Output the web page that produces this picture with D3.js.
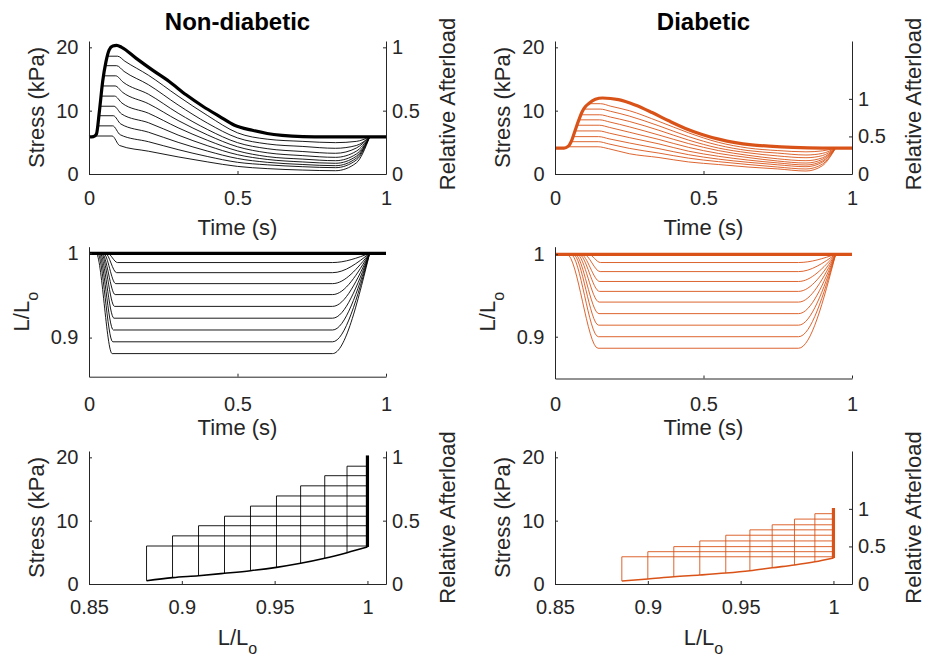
<!DOCTYPE html>
<html>
<head>
<meta charset="utf-8">
<script src="https://cdn.jsdelivr.net/npm/d3@7"></script>
<style>
  body { margin: 0; background: #fff; }
</style>
</head>
<body>
<svg id="fig" width="926" height="659"></svg>
<script>
// ---------- values ----------
// isometric (thick) stress traces, kPa
const tIsoND = [0, 0.015, 0.025, 0.035, 0.046, 0.057, 0.068, 0.08, 0.093, 0.11, 0.158, 0.214, 0.27, 0.327, 0.383, 0.439, 0.49, 0.55, 0.6, 0.65, 0.72, 0.8, 1.0];
const sIsoND = [5.85, 5.9, 6.3, 9.9, 14.6, 17.7, 19.6, 20.2, 20.3, 20.0, 18.3, 16.4, 14.6, 12.5, 10.7, 9.1, 7.7, 6.9, 6.4, 6.1, 5.9, 5.85, 5.85];
const tIsoD = [0, 0.03, 0.045, 0.057, 0.068, 0.08, 0.091, 0.102, 0.113, 0.136, 0.16, 0.214, 0.27, 0.327, 0.383, 0.439, 0.495, 0.551, 0.607, 0.663, 0.72, 0.8, 0.9, 1.0];
const sIsoD = [4.1, 4.1, 4.4, 5.4, 6.9, 8.5, 9.8, 10.6, 11.1, 11.8, 12.0, 11.75, 10.9, 9.7, 8.4, 7.2, 6.25, 5.5, 4.95, 4.6, 4.4, 4.2, 4.1, 4.1];

// afterloaded contractions, non-diabetic
const afterND = [6.0, 7.6, 9.2, 10.7, 12.3, 13.9, 15.5, 17.1, 18.6];
const onND = [0.024, 0.029, 0.033, 0.037, 0.041, 0.044, 0.049, 0.055, 0.062];   // shortening starts
const kinkND = [0.078, 0.080, 0.082, 0.084, 0.086, 0.088, 0.090, 0.093, 0.096]; // shortening ends
const dropND = [0.103, 0.105, 0.107, 0.109, 0.111, 0.113, 0.115, 0.118, 0.121];
const decayTND = [0.2, 0.3, 0.4, 0.5, 0.6, 0.72];
const decayND = [
  [4.5, 3.6, 2.7, 1.9, 1.2, 0.85, 0.62],
  [6.2, 5.1, 3.85, 2.75, 1.85, 1.45, 1.15],
  [7.9, 6.6, 5.0, 3.6, 2.45, 1.85, 1.5],
  [9.5, 8.1, 6.15, 4.45, 3.05, 2.3, 1.9],
  [11.2, 9.6, 7.3, 5.3, 3.65, 2.75, 2.35],
  [12.9, 11.1, 8.45, 6.15, 4.3, 3.35, 2.9],
  [14.5, 12.6, 9.6, 7.0, 4.95, 4.0, 3.55],
  [16.2, 14.1, 10.9, 8.0, 5.7, 4.75, 4.35],
  [17.8, 15.6, 12.3, 9.2, 6.5, 5.5, 5.15]
];
const passND = [0.52, 1.0, 1.31, 1.69, 2.1, 2.63, 3.27, 4.06, 4.95];   // stress at shortest length
const reloadND = [1.75, 2.2, 2.5, 2.8, 3.15, 3.6, 4.1, 4.5, 5.15];   // stress at t = 0.9
const lMinND = [0.881, 0.895, 0.909, 0.923, 0.937, 0.951, 0.964, 0.977, 0.989];

// afterloaded contractions, diabetic
const afterD = [4.3, 5.1, 5.9, 6.8, 7.7, 8.55, 9.35, 10.25, 11.1];
const onD = [0.04, 0.053, 0.061, 0.067, 0.074, 0.081, 0.087, 0.097, 0.113];
const kinkD = [0.145, 0.146, 0.147, 0.148, 0.149, 0.150, 0.151, 0.152, 0.153];
const dropD = [0.18, 0.181, 0.182, 0.183, 0.184, 0.185, 0.186, 0.187, 0.188];
const decayTD = [0.25, 0.35, 0.45, 0.55, 0.65, 0.75];
const decayD = [
  [4.0, 3.2, 2.6, 1.9, 1.5, 1.1, 0.8],
  [4.75, 4.05, 3.3, 2.5, 1.95, 1.5, 1.1],
  [5.55, 4.9, 4.0, 3.05, 2.35, 1.85, 1.45],
  [6.45, 5.75, 4.75, 3.6, 2.8, 2.2, 1.75],
  [7.35, 6.6, 5.45, 4.2, 3.25, 2.6, 2.05],
  [8.2, 7.45, 6.15, 4.8, 3.7, 2.95, 2.4],
  [9.0, 8.3, 6.9, 5.35, 4.1, 3.35, 2.85],
  [9.9, 9.15, 7.6, 5.9, 4.55, 3.7, 3.3],
  [10.7, 10.0, 8.3, 6.5, 5.0, 4.1, 3.7]
];
const passD = [0.47, 0.79, 1.15, 1.42, 1.73, 2.1, 2.57, 3.0, 3.5];
const reloadD = [1.3, 1.55, 1.85, 2.05, 2.3, 2.55, 2.9, 3.25, 3.65];
const lMinD = [0.886, 0.900, 0.914, 0.928, 0.942, 0.955, 0.967, 0.979, 0.990];

// timing of relengthening (s)
const passTND = 0.83, passTD = 0.845, midT = 0.9, backT = 0.945, relaxT = 0.82;

// ticks
const timeTicks = [0, 0.5, 1];
const stressTicks = [0, 10, 20];
const relTicks = [0, 0.5, 1];
const lenTicks = [0.9, 1];
const loopTicks = [0.85, 0.9, 0.95, 1];

// ---------- drawing ----------
const FONT = '"Liberation Sans", Arial, Helvetica, sans-serif';
const AX = '#262626';
const TICK = 20, LAB = 22;
const fmt = d3.format('~g');
const svg = d3.select('#fig');

const groups = [
  {name: 'Non-diabetic', col: '#000000', x0: 89, tIso: tIsoND, sIso: sIsoND, after: afterND, on: onND, kink: kinkND,
   drop: dropND, decayT: decayTND, decay: decayND, pass: passND, passT: passTND, reload: reloadND, lMin: lMinND,
   relTop: 1.05, lenDom: [0.8536, 1.0078], lenBottom: 376.7},
  {name: 'Diabetic', col: '#D95319', x0: 555, tIso: tIsoD, sIso: sIsoD, after: afterD, on: onD, kink: kinkD,
   drop: dropD, decayT: decayTD, decay: decayD, pass: passD, passT: passTD, reload: reloadD, lMin: lMinD,
   relTop: 1.77, lenDom: [0.8493, 1.0092], lenBottom: 378.5}
];

function styleAxis(a) {
  a.attr('font-family', FONT).attr('font-size', TICK).attr('color', AX);
}

function xAxis(x, yPix, ticks, base) {
  svg.append('g').attr('transform', `translate(0,${yPix})`)
    .call(d3.axisBottom(x).tickValues(ticks).tickFormat(fmt).tickSize(-3).tickSizeOuter(0))
    .call(a => { styleAxis(a); a.selectAll('text').attr('y', base).attr('dy', null); });
}
function yAxis(y, xPix, ticks) {
  svg.append('g').attr('transform', `translate(${xPix},0)`)
    .call(d3.axisLeft(y).tickValues(ticks).tickFormat(fmt).tickSize(-3).tickSizeOuter(0).tickPadding(10.5))
    .call(styleAxis);
}
function yAxisRight(y, xPix, ticks) {
  svg.append('g').attr('transform', `translate(${xPix},0)`)
    .call(d3.axisRight(y).tickValues(ticks).tickFormat(fmt).tickSize(-3).tickSizeOuter(0).tickPadding(6))
    .call(styleAxis);
}
function label(x, y, txt, rot, size, weight) {
  return svg.append('text')
    .attr('transform', `translate(${x},${y})` + (rot ? ' rotate(-90)' : ''))
    .attr('text-anchor', 'middle')
    .attr('font-family', FONT)
    .attr('font-size', size || LAB)
    .attr('font-weight', weight || 'normal')
    .attr('fill', weight ? '#000' : AX)
    .text(txt);
}
function lLabel(x, y, rot) {
  const t = label(x, y, 'L/L', rot);
  t.append('tspan').attr('font-size', 16).attr('dy', 9).text('o');
}
function path(data, x, y, col, w, curve) {
  svg.append('path').datum(data)
    .attr('fill', 'none').attr('stroke', col).attr('stroke-width', w)
    .attr('stroke-linejoin', 'round')
    .attr('d', d3.line().x(d => x(d[0])).y(d => y(d[1])).curve(curve || d3.curveMonotoneX));
}

groups.forEach(g => {
  const x1 = g.x0 + 297, xc = g.x0 + 148.5;
  const pre = g.sIso[0], peak = d3.max(g.sIso);
  const iso = g.tIso.map((t, j) => [t, g.sIso[j]]);

  // ---- row 1: stress vs time ----
  const xT = d3.scaleLinear().domain([0, 1]).range([g.x0, x1]);
  const yS = d3.scaleLinear().domain([0, 21]).range([174, 41]);
  const yR = d3.scaleLinear().domain([0, g.relTop]).range([174, 41]);

  g.after.forEach((lev, i) => {
    const pts = iso.filter(d => d[0] < g.on[i]);
    pts.push([g.on[i], lev], [g.kink[i], lev], [g.drop[i], g.decay[i][0]]);
    g.decayT.forEach((t, j) => pts.push([t, g.decay[i][j + 1]]));
    pts.push([g.passT, g.pass[i]], [midT, g.reload[i]], [backT, pre]);
    path(pts, xT, yS, g.col, 0.9);
  });
  path(iso, xT, yS, g.col, 3.2);

  xAxis(xT, 174, timeTicks, 30.5);
  yAxis(yS, g.x0, stressTicks);
  yAxisRight(yR, x1, relTicks);
  label(xc, 30, g.name, false, 24, 'bold');
  label(xc, 235, 'Time (s)');
  label(g.x0 - 45, 107.5, 'Stress (kPa)', true);
  label(x1 + 68.5, 104, 'Relative Afterload', true);

  // ---- row 2: length vs time ----
  const yL = d3.scaleLinear().domain(g.lenDom).range([g.lenBottom, 246.7]);
  g.after.forEach((lev, i) => {
    const pts = [[0, 1], [g.on[i], 1], [g.kink[i], g.lMin[i]], [relaxT, g.lMin[i]], [backT, 1]];
    path(pts, xT, yL, g.col, 0.9);
  });
  path([[0, 1], [1, 1]], xT, yL, g.col, 3.2);
  xAxis(xT, g.lenBottom, timeTicks, 410.7 - g.lenBottom);
  yAxis(yL, g.x0, lenTicks);
  label(xc, 435, 'Time (s)');
  lLabel(g.x0 - 60.5, 311.7, true);

  // ---- row 3: stress vs length loops ----
  const xL = d3.scaleLinear().domain([0.85, 1.01]).range([g.x0, x1]);
  const yS3 = d3.scaleLinear().domain([0, 21]).range([584, 451]);
  const yR3 = d3.scaleLinear().domain([0, g.relTop]).range([584, 451]);
  g.after.forEach((lev, i) => {
    path([[1, pre], [1, lev], [g.lMin[i], lev], [g.lMin[i], g.pass[i]]], xL, yS3, g.col, 0.9, d3.curveLinear);
  });
  const passive = g.lMin.map((l, i) => [l, g.pass[i]]).concat([[1, pre]]);
  path(passive, xL, yS3, g.col, 1.6);
  path([[1, pre], [1, peak]], xL, yS3, g.col, 3.2, d3.curveLinear);

  xAxis(xL, 584, loopTicks, 30.3);
  yAxis(yS3, g.x0, stressTicks);
  yAxisRight(yR3, x1, relTicks);
  lLabel(xc, 645, false);
  label(g.x0 - 45, 517.5, 'Stress (kPa)', true);
  label(x1 + 68.5, 517.5, 'Relative Afterload', true);
});
</script>
</body>
</html>
